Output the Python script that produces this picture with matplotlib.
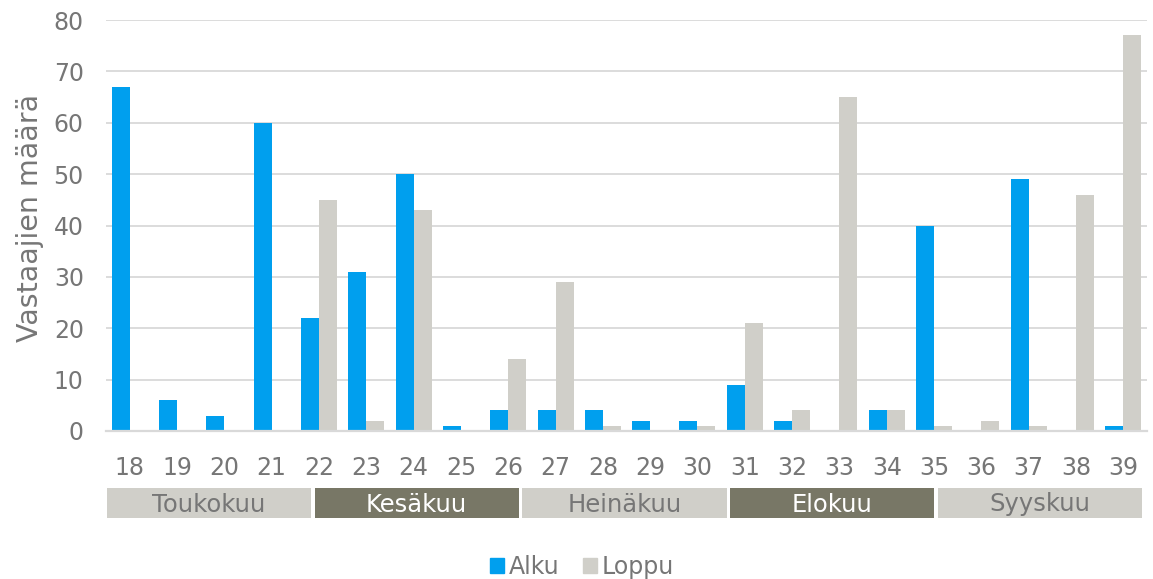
import matplotlib
matplotlib.use("Agg")
import matplotlib.pyplot as plt
from matplotlib.patches import Patch
import numpy as np

# Data
weeks = ['18', '19', '20', '21', '22', '23', '24', '25', '26', '27', '28',
         '29', '30', '31', '32', '33', '34', '35', '36', '37', '38', '39']
alku = [67, 6, 3, 60, 22, 31, 50, 1, 4, 4, 4, 2, 2, 9, 2, 0, 4, 40, 0, 49, 0, 1]
loppu = [0, 0, 0, 0, 45, 2, 43, 0, 14, 29, 1, 0, 1, 21, 4, 65, 4, 1, 2, 1, 46, 77]
months = ['Toukokuu', 'Kesäkuu', 'Heinäkuu', 'Elokuu', 'Syyskuu']
yticks = [0, 10, 20, 30, 40, 50, 60, 70, 80]

blue = '#009FEE'
light = '#D0CFC9'
dark = '#787766'
txt = '#767676'
grid = '#D9D9D9'

plt.rcParams['font.family'] = ['DejaVu Sans']

W, H = 1153, 579
fig = plt.figure(figsize=(W / 100, H / 100), dpi=100)

# main chart area (pixel layout)
ax = fig.add_axes([106 / W, (H - 431) / H, (1147 - 106) / W, (431 - 20) / H])
x = np.arange(len(weeks))
bw = 0.38
ax.bar(x - bw / 2, alku, width=bw, color=blue, zorder=3)
ax.bar(x + bw / 2, loppu, width=bw, color=light, zorder=3)

ax.set_xlim(-0.5, len(weeks) - 0.5)
ax.set_ylim(0, 80)
ax.set_yticks(yticks)
ax.set_xticks(x)
ax.set_xticklabels(weeks)
ax.tick_params(axis='both', length=0, colors=txt, labelsize=17)
ax.tick_params(axis='x', pad=18)
ax.tick_params(axis='y', pad=16)
ax.yaxis.grid(True, color=grid, linewidth=1.3, zorder=0)
for s in ['top', 'right', 'left']:
    ax.spines[s].set_visible(False)
ax.spines['bottom'].set_color(grid)
ax.spines['bottom'].set_linewidth(1.6)
ax.spines['bottom'].set_zorder(4)

fig.text(30 / W, 1 - 218 / H, 'Vastaajien määrä', rotation=90,
         ha='center', va='center', color=txt, fontsize=20.5)

# month band below the week labels
mx = fig.add_axes([105 / W, (H - 518) / H, (1144 - 105) / W, 30 / H])
mx.set_xlim(0, len(months))
mx.set_ylim(0, 1)
mx.axis('off')
for i, m in enumerate(months):
    c = light if i % 2 == 0 else dark
    tc = txt if i % 2 == 0 else 'white'
    mx.bar(i + 0.5, 1, width=0.982, bottom=0, color=c)
    mx.text(i + 0.5, 0.45, m, ha='center', va='center', color=tc, fontsize=17.5)

handles = [Patch(color=blue, label='Alku'), Patch(color=light, label='Loppu')]
fig.legend(handles=handles, loc='center', bbox_to_anchor=(582 / W, 1 - 567 / H),
           ncol=2, frameon=False, fontsize=17, labelcolor=txt,
           handlelength=0.6, handleheight=0.6, handletextpad=0.2,
           columnspacing=1.0)

fig.savefig('out.png', dpi=100)
